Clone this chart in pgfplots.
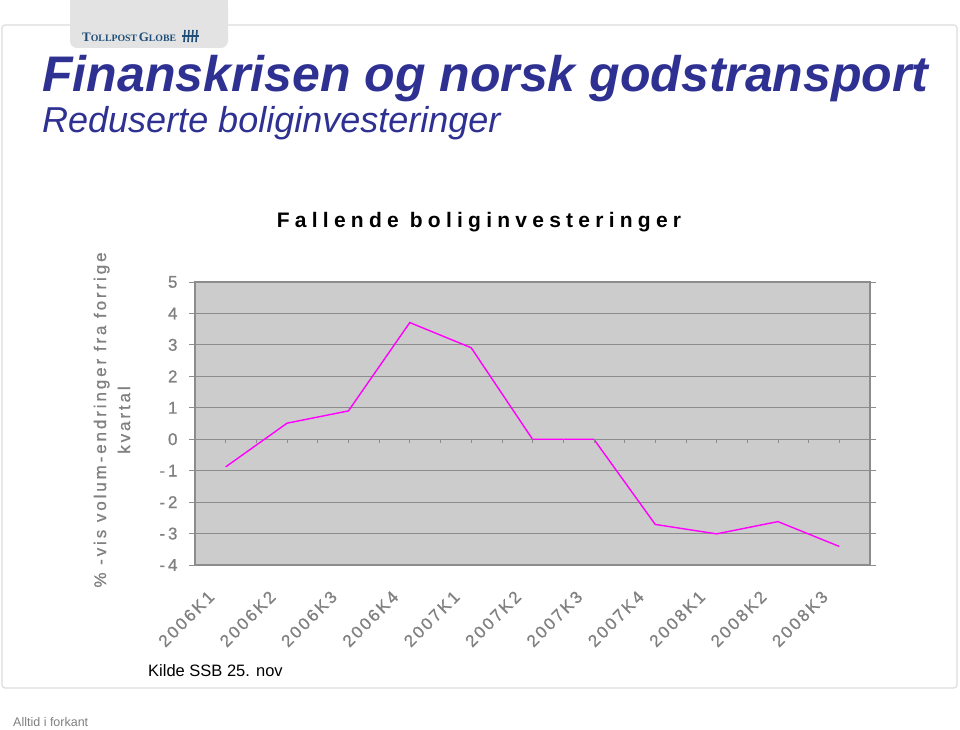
\documentclass[border=0pt]{standalone}
\usepackage{fontspec}
\setmainfont{Liberation Sans}
\newfontfamily\charttitle[LetterSpace=25]{Liberation Sans}
\newfontfamily\ticklab[LetterSpace=14,FakeBold=0.8]{Liberation Sans}
\newfontfamily\ylabfont[LetterSpace=17,FakeBold=0.8]{Liberation Sans}
\newfontfamily\logofont{Liberation Serif}
\usepackage{pgfplots}
\pgfplotsset{compat=1.18}
\definecolor{titleblue}{HTML}{2E3192}
\definecolor{txtgray}{HTML}{808080}
\definecolor{plotbg}{HTML}{CCCCCC}
\definecolor{gridc}{HTML}{8C8C8C}
\definecolor{framec}{HTML}{DDDDDD}
\definecolor{logobg}{HTML}{E3E3E3}
\definecolor{logoblue}{HTML}{1F4E79}
\definecolor{linemag}{HTML}{FF00FF}
\begin{document}
\begin{tikzpicture}[x=1pt,y=1pt]
\fill[white] (0,0) rectangle (960,730);
% slide frame
\draw[framec, line width=1.2pt, rounded corners=3pt] (2,705) rectangle (957,42);
% logo box
\fill[logobg, rounded corners=7pt] (70,682) rectangle (228,730);
\fill[logobg] (70,715) rectangle (228,730);
\node[anchor=base west, inner sep=0, text=logoblue, font=\logofont\bfseries] at (82,688)
  {\fontsize{13}{13}\selectfont T\fontsize{9.8}{9.8}\selectfont OLLPOST\,\fontsize{13}{13}\selectfont G\fontsize{9.8}{9.8}\selectfont LOBE};
\begin{scope}[logoblue, line width=1.6pt]
\draw (184,688) -- (185,700);
\draw (188,688) -- (189,700);
\draw (192,688) -- (193,700);
\draw (196,688) -- (197,700);
\draw[line width=1.2pt] (182,694) -- (199,694);
\end{scope}
% titles
\node[anchor=base west, inner sep=0, text=titleblue, font=\bfseries\itshape\fontsize{50}{50}\selectfont] at (42,638) {Finanskrisen og norsk godstransport};
\node[anchor=base west, inner sep=0, text=titleblue, font=\itshape\fontsize{36}{36}\selectfont] at (42,597) {Reduserte boliginvesteringer};
% chart title
\node[anchor=base, inner sep=0, font=\charttitle\bfseries\fontsize{21}{21}\selectfont] at (479,502) {Fallende boliginvesteringer};
% y label
\node[rotate=90, align=center, text=txtgray, font=\ylabfont\fontsize{17}{24}\selectfont] at (112,310) {\% -vis volum-endringer fra forrige\\kvartal};
% source
\node[anchor=base west, inner sep=0, font=\fontsize{16.5}{16.5}\selectfont] at (148,53) {Kilde SSB 25. nov};
\node[anchor=base west, inner sep=0, text=txtgray, font=\fontsize{12.5}{12.5}\selectfont] at (13,3) {Alltid i forkant};
\begin{axis}[
  at={(195pt,165pt)}, anchor=south west, scale only axis,
  width=675pt, height=283pt,
  xmin=-0.5, xmax=10.5, ymin=-4, ymax=5,
  ytick={-4,-3,...,5},
  yticklabels={-\,4,-\,3,-\,2,-\,1,0,1,2,3,4,5},
  xtick={0,1,...,10},
  xticklabels={2006K1,2006K2,2006K3,2006K4,2007K1,2007K2,2007K3,2007K4,2008K1,2008K2,2008K3},
  x tick style={draw=none},
  y tick style={draw=gridc, line width=0.8pt},
  tick align=outside,
  major tick length=6pt,
  ymajorgrids,
  grid style={color=gridc, line width=1.1pt},
  axis background/.style={fill=plotbg},
  axis line style={color=gridc, line width=1.4pt},
  yticklabel style={text=txtgray, font=\ticklab\fontsize{17}{17}\selectfont, xshift=-8pt},
  xticklabel style={rotate=45, anchor=east, text=txtgray, font=\ticklab\fontsize{17}{17}\selectfont, yshift=-6pt, xshift=-23pt},
  clip=false,
]
\addplot[linemag, line width=1.4pt] coordinates {
 (0,-0.88) (1,0.51) (2,0.90) (3,3.71) (4,2.91) (5,0) (6,0) (7,-2.71) (8,-3.01) (9,-2.62) (10,-3.41)
};
\pgfplotsinvokeforeach{0,0.5,...,10}{
  \draw[gridc, line width=0.6pt] (axis cs:#1,0) -- ++(0pt,-4pt);
}
\end{axis}
\end{tikzpicture}
\end{document}
